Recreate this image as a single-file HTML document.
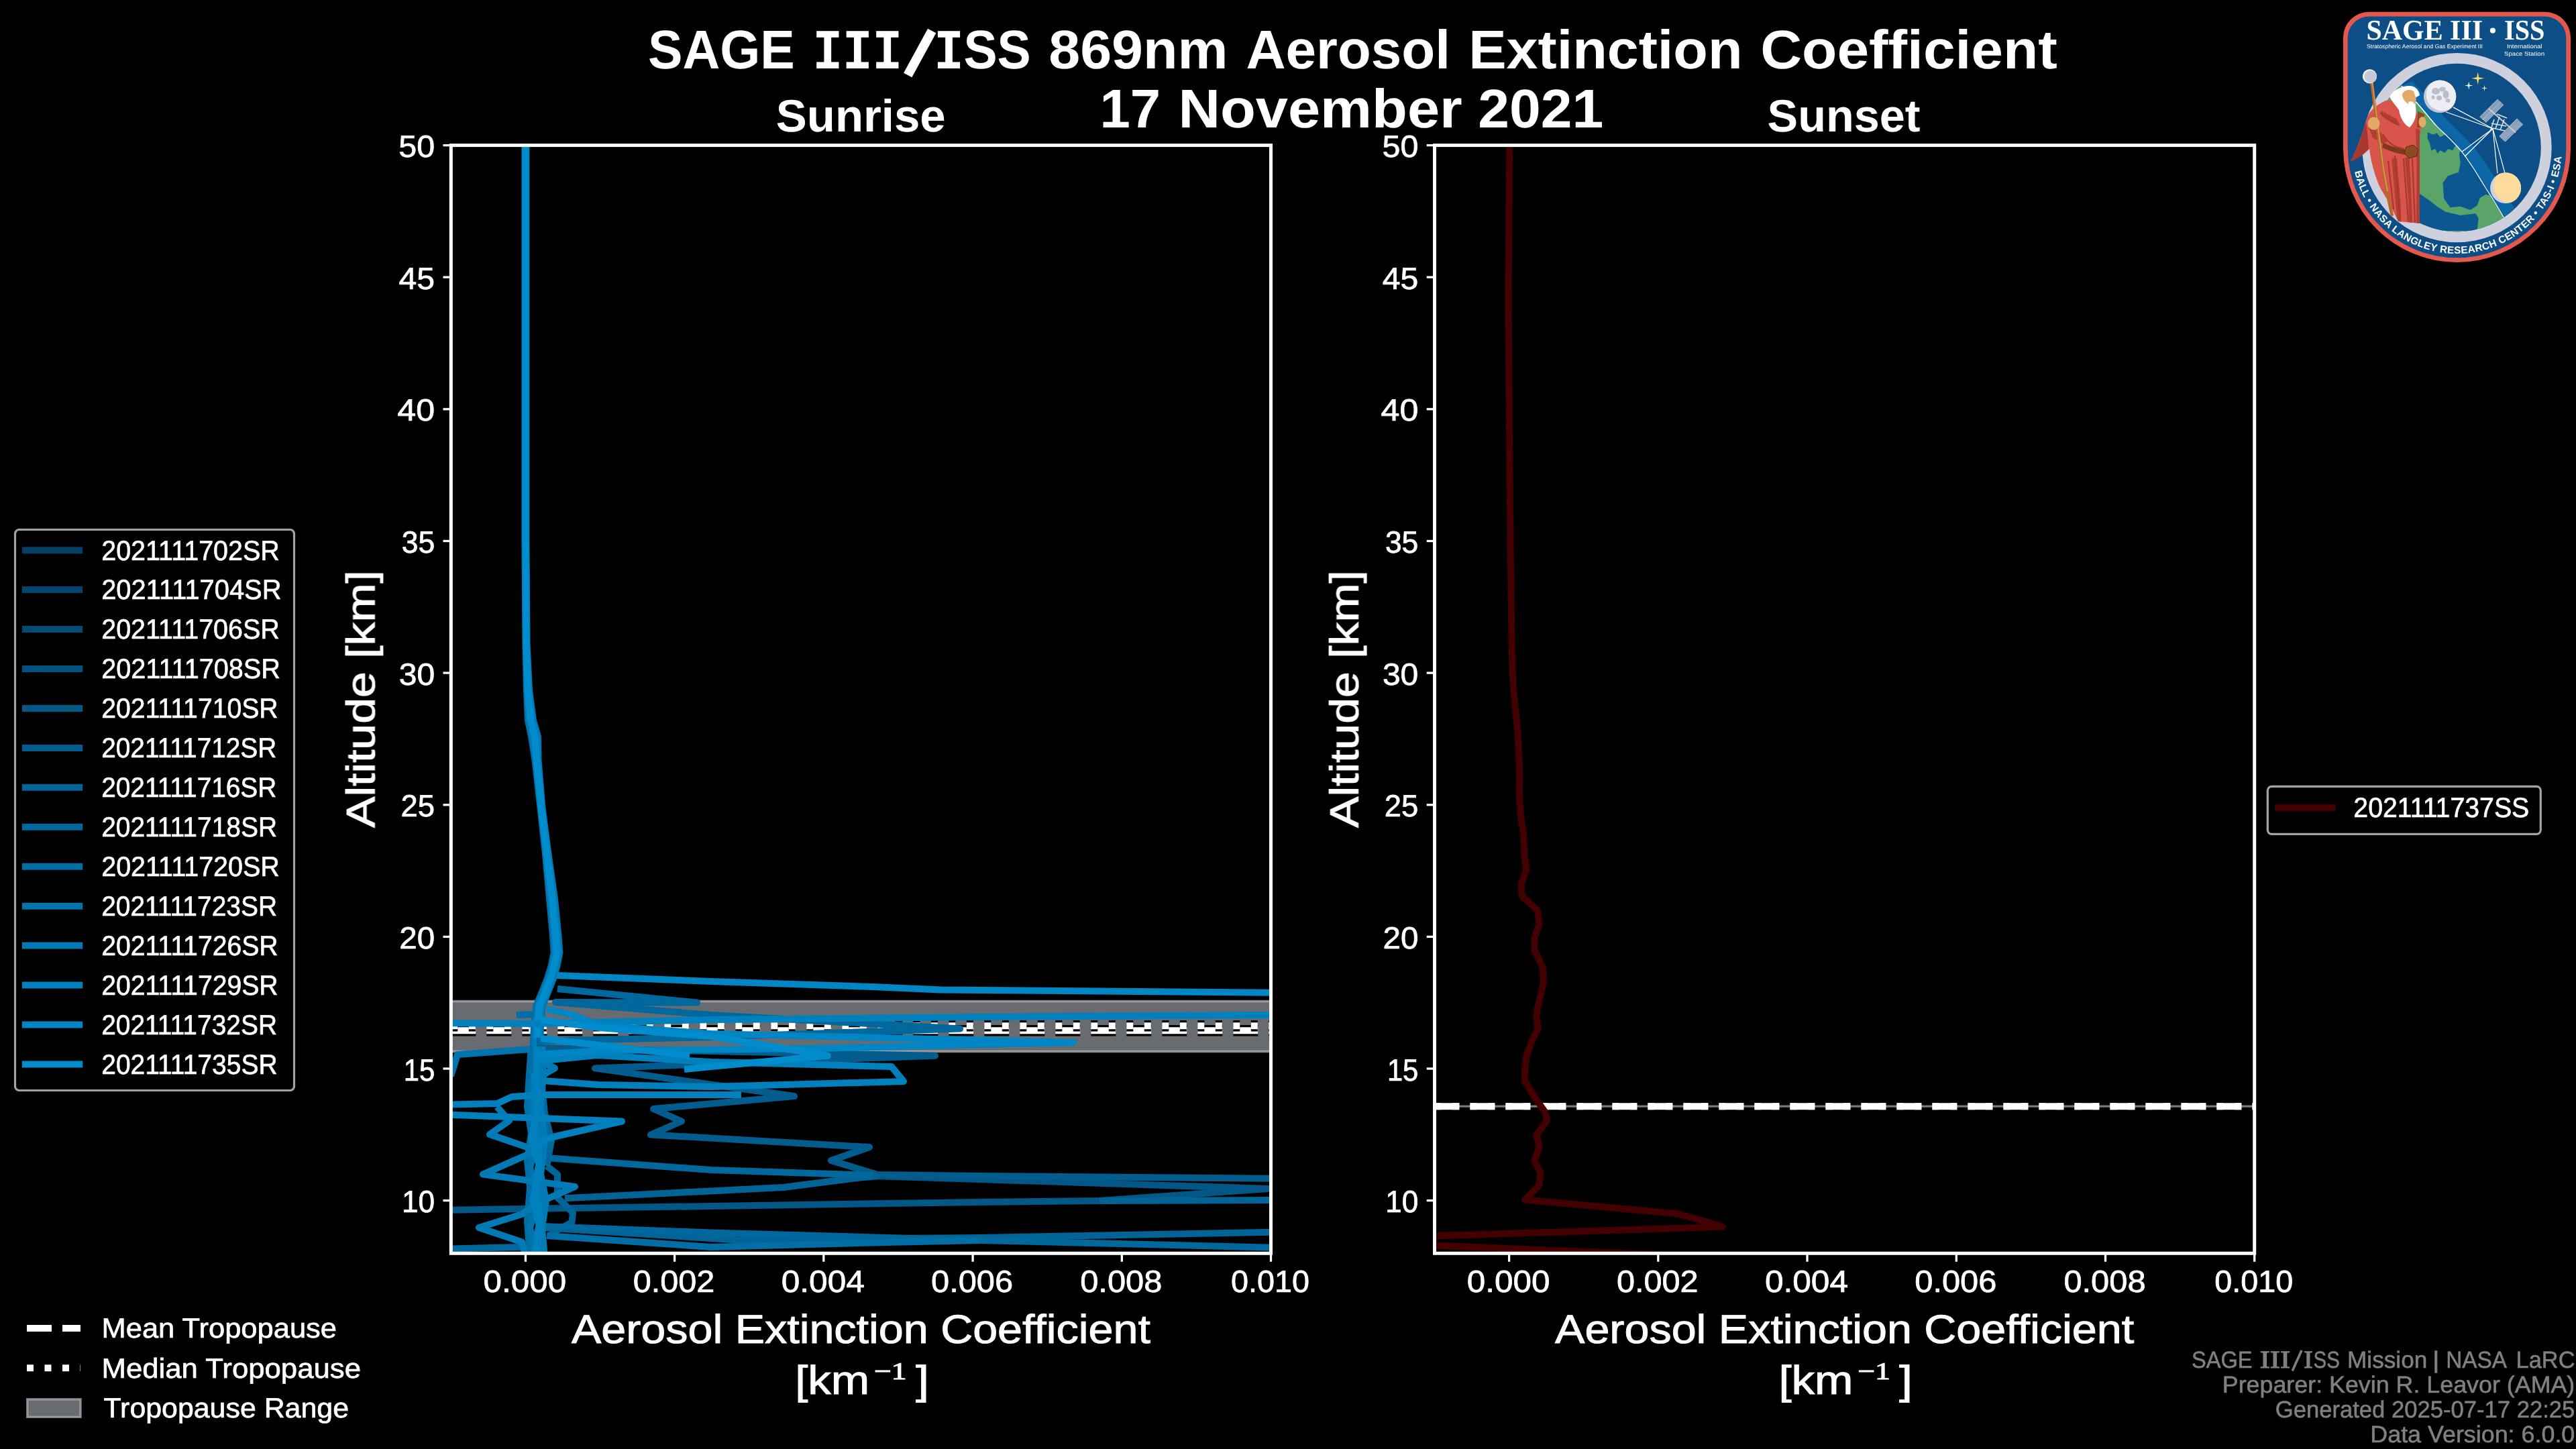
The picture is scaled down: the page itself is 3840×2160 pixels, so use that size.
<!DOCTYPE html>
<html><head><meta charset="utf-8"><title>SAGE III/ISS 869nm Aerosol Extinction Coefficient</title>
<style>html,body{margin:0;padding:0;background:#000;width:3840px;height:2160px;overflow:hidden;font-family:"Liberation Sans",sans-serif}</style>
</head><body>
<svg width="3840" height="2160" viewBox="0 0 3840 2160" style="position:absolute;left:0;top:0" text-rendering="geometricPrecision">
<defs><filter id="nf" x="-5%" y="-30%" width="110%" height="160%"><feOffset dx="0" dy="0"/></filter>
<clipPath id="c1"><rect x="672.3" y="216.6" width="1222.2" height="1651.7"/></clipPath>
<clipPath id="c2"><rect x="2138.5" y="216.6" width="1222.2" height="1651.7"/></clipPath>
</defs>
<rect width="3840" height="2160" fill="#000"/>
<g clip-path="url(#c1)" fill="none" stroke-linejoin="round" stroke-linecap="butt">
<rect x="672.3" y="1492.5" width="1222.2" height="75.0" fill="#686b70" stroke="rgba(192,195,200,0.66)" stroke-width="3.3"/>
<line x1="672.3" y1="1536.3" x2="1894.5" y2="1536.3" stroke="#000" stroke-width="16.5" stroke-dasharray="37 16"/>
<line x1="672.3" y1="1536.3" x2="1894.5" y2="1536.3" stroke="#fff" stroke-width="10" stroke-dasharray="37 16"/>
<line x1="672.3" y1="1529.3" x2="1894.5" y2="1529.3" stroke="#000" stroke-width="16.5" stroke-dasharray="10 16.5"/>
<line x1="672.3" y1="1529.3" x2="1894.5" y2="1529.3" stroke="#fff" stroke-width="10" stroke-dasharray="10 16.5"/>
<polyline points="782.4,210.0 782.4,800.0 783.5,960.0 785.0,1029.0 787.0,1074.0 792.0,1098.0 797.5,1133.0 805.2,1202.0 812.8,1271.0 819.0,1340.0 823.8,1392.0 825.6,1420.0 821.6,1440.0 815.5,1460.0 807.4,1480.0 799.2,1500.0 796.0,1528.0 794.7,1560.0 794.9,1590.0 794.0,1640.0" stroke="#016ea5" stroke-width="10"/>
<polyline points="784.4,210.0 784.4,800.0 785.5,960.0 789.0,1029.0 795.0,1074.0 802.0,1098.0 802.5,1133.0 808.2,1202.0 817.2,1271.0 827.0,1340.0 832.2,1392.0 834.4,1420.0 830.4,1440.0 824.5,1460.0 816.6,1480.0 808.8,1500.0 806.0,1528.0 805.3,1560.0 806.1,1590.0 806.0,1640.0" stroke="#0174ad" stroke-width="10"/>
<polyline points="782.9,210.0 782.9,800.0 784.0,960.0 786.0,1029.0 789.0,1074.0 794.5,1098.0 798.8,1133.0 806.0,1202.0 813.9,1271.0 821.0,1340.0 825.9,1392.0 827.8,1420.0 823.8,1440.0 817.8,1460.0 809.7,1480.0 801.6,1500.0 798.5,1528.0 797.4,1560.0 797.7,1590.0 797.0,1640.0" stroke="#017ab5" stroke-width="10"/>
<polyline points="783.9,210.0 783.9,800.0 785.0,960.0 788.0,1029.0 793.0,1074.0 799.5,1098.0 801.2,1133.0 807.5,1202.0 816.1,1271.0 825.0,1340.0 830.1,1392.0 832.2,1420.0 828.2,1440.0 822.2,1460.0 814.3,1480.0 806.4,1500.0 803.5,1528.0 802.6,1560.0 803.3,1590.0 803.0,1640.0" stroke="#0080bd" stroke-width="10"/>
<polyline points="783.4,210.0 783.4,800.0 784.5,960.0 787.0,1029.0 791.0,1074.0 797.0,1098.0 800.0,1133.0 806.7,1202.0 815.0,1271.0 823.0,1340.0 828.0,1392.0 830.0,1420.0 826.0,1440.0 820.0,1460.0 812.0,1480.0 804.0,1500.0 801.0,1528.0 800.0,1560.0 800.5,1590.0 800.0,1640.0" stroke="#017ab5" stroke-width="10"/>
<polyline points="783.4,210.0 783.4,800.0 784.5,960.0 787.0,1029.0 791.0,1074.0 797.0,1098.0 800.0,1133.0 806.7,1202.0 815.0,1271.0 823.0,1340.0 828.0,1392.0 830.0,1420.0 826.0,1440.0 820.0,1460.0 812.0,1480.0 804.0,1500.0 801.0,1528.0 801.0,1548.0" stroke="#008ccd" stroke-width="10"/>
<polyline points="650.0,1804.0 1060.0,1798.0 1460.0,1792.0 1639.0,1790.0 1890.0,1772.0 1460.0,1758.0 1300.0,1753.0" stroke="#025786" stroke-width="10"/>
<polyline points="800.0,1562.0 1394.0,1573.7 887.0,1592.4 1184.0,1634.0 974.0,1653.0 1016.0,1671.5 970.0,1691.5 1296.0,1710.0 1239.0,1730.0 1308.0,1751.0 1460.0,1753.0 1910.0,1757.0" stroke="#025d8e" stroke-width="10"/>
<polyline points="815.0,1738.0 831.0,1750.6 831.0,1785.0 854.0,1808.0 852.5,1822.0 820.0,1840.0" stroke="#026396" stroke-width="10"/>
<polyline points="841.7,1786.3 1060.0,1775.4 1168.0,1770.0 1277.0,1756.0 1310.0,1753.0" stroke="#026396" stroke-width="10"/>
<polyline points="1639.0,1790.0 1910.0,1789.0" stroke="#026396" stroke-width="10"/>
<polyline points="809.0,1830.0 1099.0,1848.4 1460.0,1845.0 1910.0,1836.5" stroke="#026396" stroke-width="10"/>
<polyline points="806.0,1600.0 812.0,1660.0 822.0,1700.0 815.0,1738.0" stroke="#01689d" stroke-width="10"/>
<polyline points="831.0,1474.0 1039.0,1494.5 828.0,1494.0 1060.0,1513.0 1431.0,1533.4 1060.0,1546.0 800.0,1552.0" stroke="#01689d" stroke-width="10"/>
<polyline points="815.0,1726.0 1060.0,1744.0 1300.0,1752.0" stroke="#01689d" stroke-width="10"/>
<polyline points="807.5,1828.0 1060.0,1837.5 1460.0,1849.0 1910.0,1860.0" stroke="#01689d" stroke-width="10"/>
<polyline points="650.0,1862.0 778.0,1859.0" stroke="#01689d" stroke-width="10"/>
<polyline points="792.0,1560.0 789.0,1600.0 786.0,1650.0 792.0,1690.0 786.0,1730.0 790.0,1770.0 786.0,1820.0 790.0,1875.0" stroke="#016ea5" stroke-width="10"/>
<polyline points="770.0,1513.0 797.0,1512.0" stroke="#016ea5" stroke-width="10"/>
<polyline points="815.0,1842.0 1060.0,1859.0 1277.0,1853.0 1460.0,1849.0" stroke="#016ea5" stroke-width="10"/>
<polyline points="797.0,1600.0 790.0,1640.0 800.0,1700.0 790.0,1740.0 803.0,1790.0 790.0,1830.0 800.0,1875.0" stroke="#0174ad" stroke-width="10"/>
<polyline points="672.0,1604.0 682.0,1572.0 790.0,1564.0" stroke="#0174ad" stroke-width="10"/>
<polyline points="808.0,1560.0 810.0,1600.0 806.0,1650.0 812.0,1700.0 806.0,1750.0 814.0,1790.0 808.0,1830.0 812.0,1875.0" stroke="#017ab5" stroke-width="10"/>
<polyline points="797.0,1600.0 796.0,1660.0 808.0,1720.0 798.0,1760.0 812.0,1800.0 800.0,1840.0 806.0,1875.0" stroke="#017ab5" stroke-width="10"/>
<polyline points="800.0,1578.0 827.0,1592.4 803.0,1606.0" stroke="#017ab5" stroke-width="10"/>
<polyline points="741.0,1650.0 759.0,1670.6 730.0,1691.0 800.0,1715.0 720.0,1750.6 857.0,1769.0 800.0,1794.0 778.0,1810.0 714.0,1830.0 778.0,1851.5 784.0,1875.0" stroke="#017ab5" stroke-width="10"/>
<polyline points="800.0,1560.0 800.0,1600.0 801.0,1650.0 797.0,1690.0 804.0,1730.0 798.0,1770.0 805.0,1810.0 799.0,1875.0" stroke="#0080bd" stroke-width="10"/>
<polyline points="797.0,1600.0 802.0,1650.0 792.0,1700.0 806.0,1745.0 794.0,1790.0 806.0,1835.0 795.0,1875.0" stroke="#0080bd" stroke-width="10"/>
<polyline points="650.0,1525.0 797.0,1526.0 1060.0,1520.0 1460.0,1516.0 1910.0,1513.0" stroke="#0080bd" stroke-width="10"/>
<polyline points="809.0,1611.0 892.0,1617.0 1060.0,1620.0 1347.0,1612.0 1329.0,1590.0 1060.0,1583.0 890.0,1573.0 800.0,1582.0" stroke="#0080bd" stroke-width="10"/>
<polyline points="650.0,1647.0 741.0,1645.0 763.0,1635.0 806.0,1632.0 1105.0,1632.0" stroke="#0080bd" stroke-width="10"/>
<polyline points="650.0,1661.0 927.0,1671.5 815.0,1697.0 795.0,1712.0" stroke="#0080bd" stroke-width="10"/>
<polyline points="830.0,1454.0 1060.0,1463.0 1300.0,1471.0 1402.0,1475.5 1910.0,1480.0" stroke="#0086c5" stroke-width="10"/>
<polyline points="815.0,1504.0 854.0,1513.0 893.0,1528.7 1060.0,1541.0 1460.0,1550.4 1600.0,1554.0 1460.0,1557.0 1215.0,1563.0 1060.0,1564.5 900.0,1566.0 800.0,1572.0" stroke="#0086c5" stroke-width="10"/>
<polyline points="806.0,1520.0 893.0,1532.0 1060.0,1545.0 1234.0,1573.7 1060.0,1590.0 1020.0,1594.0" stroke="#008ccd" stroke-width="10"/>
<polyline points="806.0,1548.0 1028.0,1573.7" stroke="#008ccd" stroke-width="10"/>
</g>
<g clip-path="url(#c2)" fill="none" stroke-linejoin="round" stroke-linecap="butt">
<line x1="2138.5" y1="1649.2" x2="3360.7" y2="1649.2" stroke="#77797e" stroke-width="3.3"/>
<line x1="2138.5" y1="1649.2" x2="3360.7" y2="1649.2" stroke="#fff" stroke-width="10" stroke-dasharray="37 16"/>
<line x1="2138.5" y1="1649.2" x2="3360.7" y2="1649.2" stroke="#fff" stroke-width="10" stroke-dasharray="10 16.5"/>
<polyline points="2250.0,210.0 2250.2,220.0 2248.5,447.0 2250.2,671.0 2251.7,820.0 2253.2,932.0 2254.4,1000.0 2256.9,1035.9 2262.3,1089.7 2265.1,1143.5 2264.8,1186.6 2266.9,1215.3 2271.2,1244.0 2272.3,1276.3 2275.5,1296.0 2267.7,1317.6 2268.7,1335.5 2292.0,1357.0 2294.6,1376.8 2287.4,1398.3 2287.4,1416.3 2300.0,1443.2 2301.0,1462.9 2296.4,1484.4 2292.6,1500.0 2290.0,1514.4 2292.6,1532.8 2283.4,1552.5 2275.6,1573.4 2273.5,1591.8 2273.0,1611.5 2290.0,1639.0 2303.0,1657.4 2306.3,1670.5 2290.5,1691.5 2294.5,1709.8 2287.4,1730.8 2296.6,1747.9 2294.0,1767.5 2273.0,1788.5 2502.5,1809.5 2567.5,1828.6 1944.0,1848.6 2420.0,1868.3 2600.0,1875.8" stroke="#440000" stroke-width="10"/>
</g>
<line x1="660.5" y1="1789.6" x2="672.3" y2="1789.6" stroke="#fff" stroke-width="3.3"/>
<text x="648.1" y="1807.1" font-family="Liberation Sans" font-size="46" font-weight="normal" fill="#fff" text-anchor="end" stroke="#fff" stroke-width="0.74" textLength="49.1" lengthAdjust="spacingAndGlyphs" filter="url(#nf)" >10</text>
<line x1="660.5" y1="1593.0" x2="672.3" y2="1593.0" stroke="#fff" stroke-width="3.3"/>
<text x="648.1" y="1610.5" font-family="Liberation Sans" font-size="46" font-weight="normal" fill="#fff" text-anchor="end" stroke="#fff" stroke-width="0.74" textLength="46.4" lengthAdjust="spacingAndGlyphs" filter="url(#nf)" >15</text>
<line x1="660.5" y1="1396.4" x2="672.3" y2="1396.4" stroke="#fff" stroke-width="3.3"/>
<text x="648.1" y="1413.9" font-family="Liberation Sans" font-size="46" font-weight="normal" fill="#fff" text-anchor="end" stroke="#fff" stroke-width="0.74" textLength="52.8" lengthAdjust="spacingAndGlyphs" filter="url(#nf)" >20</text>
<line x1="660.5" y1="1199.8" x2="672.3" y2="1199.8" stroke="#fff" stroke-width="3.3"/>
<text x="648.1" y="1217.3" font-family="Liberation Sans" font-size="46" font-weight="normal" fill="#fff" text-anchor="end" stroke="#fff" stroke-width="0.74" textLength="50.5" lengthAdjust="spacingAndGlyphs" filter="url(#nf)" >25</text>
<line x1="660.5" y1="1003.1" x2="672.3" y2="1003.1" stroke="#fff" stroke-width="3.3"/>
<text x="648.1" y="1020.6" font-family="Liberation Sans" font-size="46" font-weight="normal" fill="#fff" text-anchor="end" stroke="#fff" stroke-width="0.74" textLength="53.4" lengthAdjust="spacingAndGlyphs" filter="url(#nf)" >30</text>
<line x1="660.5" y1="806.5" x2="672.3" y2="806.5" stroke="#fff" stroke-width="3.3"/>
<text x="648.1" y="824.0" font-family="Liberation Sans" font-size="46" font-weight="normal" fill="#fff" text-anchor="end" stroke="#fff" stroke-width="0.74" textLength="49.4" lengthAdjust="spacingAndGlyphs" filter="url(#nf)" >35</text>
<line x1="660.5" y1="609.9" x2="672.3" y2="609.9" stroke="#fff" stroke-width="3.3"/>
<text x="648.1" y="627.4" font-family="Liberation Sans" font-size="46" font-weight="normal" fill="#fff" text-anchor="end" stroke="#fff" stroke-width="0.74" textLength="55.8" lengthAdjust="spacingAndGlyphs" filter="url(#nf)" >40</text>
<line x1="660.5" y1="413.2" x2="672.3" y2="413.2" stroke="#fff" stroke-width="3.3"/>
<text x="648.1" y="430.7" font-family="Liberation Sans" font-size="46" font-weight="normal" fill="#fff" text-anchor="end" stroke="#fff" stroke-width="0.74" textLength="53.5" lengthAdjust="spacingAndGlyphs" filter="url(#nf)" >45</text>
<line x1="660.5" y1="216.6" x2="672.3" y2="216.6" stroke="#fff" stroke-width="3.3"/>
<text x="648.1" y="234.1" font-family="Liberation Sans" font-size="46" font-weight="normal" fill="#fff" text-anchor="end" stroke="#fff" stroke-width="0.74" textLength="53.8" lengthAdjust="spacingAndGlyphs" filter="url(#nf)" >50</text>
<line x1="783.4" y1="1868.3" x2="783.4" y2="1880.8" stroke="#fff" stroke-width="3.3"/>
<text x="782.4" y="1926.0" font-family="Liberation Sans" font-size="46" font-weight="normal" fill="#fff" text-anchor="middle" stroke="#fff" stroke-width="0.74" textLength="123.6" lengthAdjust="spacingAndGlyphs" filter="url(#nf)" >0.000</text>
<line x1="1005.6" y1="1868.3" x2="1005.6" y2="1880.8" stroke="#fff" stroke-width="3.3"/>
<text x="1004.6" y="1926.0" font-family="Liberation Sans" font-size="46" font-weight="normal" fill="#fff" text-anchor="middle" stroke="#fff" stroke-width="0.74" textLength="121.6" lengthAdjust="spacingAndGlyphs" filter="url(#nf)" >0.002</text>
<line x1="1227.8" y1="1868.3" x2="1227.8" y2="1880.8" stroke="#fff" stroke-width="3.3"/>
<text x="1226.8" y="1926.0" font-family="Liberation Sans" font-size="46" font-weight="normal" fill="#fff" text-anchor="middle" stroke="#fff" stroke-width="0.74" textLength="124.1" lengthAdjust="spacingAndGlyphs" filter="url(#nf)" >0.004</text>
<line x1="1450.1" y1="1868.3" x2="1450.1" y2="1880.8" stroke="#fff" stroke-width="3.3"/>
<text x="1449.1" y="1926.0" font-family="Liberation Sans" font-size="46" font-weight="normal" fill="#fff" text-anchor="middle" stroke="#fff" stroke-width="0.74" textLength="122.1" lengthAdjust="spacingAndGlyphs" filter="url(#nf)" >0.006</text>
<line x1="1672.3" y1="1868.3" x2="1672.3" y2="1880.8" stroke="#fff" stroke-width="3.3"/>
<text x="1671.3" y="1926.0" font-family="Liberation Sans" font-size="46" font-weight="normal" fill="#fff" text-anchor="middle" stroke="#fff" stroke-width="0.74" textLength="122.2" lengthAdjust="spacingAndGlyphs" filter="url(#nf)" >0.008</text>
<line x1="1894.5" y1="1868.3" x2="1894.5" y2="1880.8" stroke="#fff" stroke-width="3.3"/>
<text x="1893.5" y="1926.0" font-family="Liberation Sans" font-size="46" font-weight="normal" fill="#fff" text-anchor="middle" stroke="#fff" stroke-width="0.74" textLength="116.9" lengthAdjust="spacingAndGlyphs" filter="url(#nf)" >0.010</text>
<rect x="672.3" y="216.6" width="1222.2" height="1651.7" fill="none" stroke="#fff" stroke-width="5"/>
<text x="1283.4" y="2002.0" font-family="Liberation Sans" font-size="60" font-weight="normal" fill="#fff" text-anchor="middle" stroke="#fff" stroke-width="0.96" textLength="863.0" lengthAdjust="spacingAndGlyphs" filter="url(#nf)" >Aerosol Extinction Coefficient</text>
<text x="1185.2" y="2078.0" font-family="Liberation Sans" font-size="60" font-weight="normal" fill="#fff" text-anchor="start" stroke="#fff" stroke-width="0.96" textLength="111.0" lengthAdjust="spacingAndGlyphs" filter="url(#nf)" >[km</text>
<text x="1303.0" y="2056.0" font-family="Liberation Serif" font-size="36" font-weight="normal" fill="#fff" text-anchor="start" stroke="#fff" stroke-width="1.08" textLength="48.5" lengthAdjust="spacingAndGlyphs" filter="url(#nf)" >−1</text>
<text x="1364.9" y="2078.0" font-family="Liberation Sans" font-size="60" font-weight="normal" fill="#fff" text-anchor="start" stroke="#fff" stroke-width="0.96" textLength="20.0" lengthAdjust="spacingAndGlyphs" filter="url(#nf)" >]</text>
<text transform="translate(558.4,1042.0) rotate(-90)" font-family="Liberation Sans" font-size="60" fill="#fff" text-anchor="middle" filter="url(#nf)" stroke="#fff" stroke-width="0.9" textLength="384" lengthAdjust="spacingAndGlyphs">Altitude [km]</text>
<line x1="2126.7" y1="1789.6" x2="2138.5" y2="1789.6" stroke="#fff" stroke-width="3.3"/>
<text x="2114.3" y="1807.1" font-family="Liberation Sans" font-size="46" font-weight="normal" fill="#fff" text-anchor="end" stroke="#fff" stroke-width="0.74" textLength="49.1" lengthAdjust="spacingAndGlyphs" filter="url(#nf)" >10</text>
<line x1="2126.7" y1="1593.0" x2="2138.5" y2="1593.0" stroke="#fff" stroke-width="3.3"/>
<text x="2114.3" y="1610.5" font-family="Liberation Sans" font-size="46" font-weight="normal" fill="#fff" text-anchor="end" stroke="#fff" stroke-width="0.74" textLength="46.4" lengthAdjust="spacingAndGlyphs" filter="url(#nf)" >15</text>
<line x1="2126.7" y1="1396.4" x2="2138.5" y2="1396.4" stroke="#fff" stroke-width="3.3"/>
<text x="2114.3" y="1413.9" font-family="Liberation Sans" font-size="46" font-weight="normal" fill="#fff" text-anchor="end" stroke="#fff" stroke-width="0.74" textLength="52.8" lengthAdjust="spacingAndGlyphs" filter="url(#nf)" >20</text>
<line x1="2126.7" y1="1199.8" x2="2138.5" y2="1199.8" stroke="#fff" stroke-width="3.3"/>
<text x="2114.3" y="1217.3" font-family="Liberation Sans" font-size="46" font-weight="normal" fill="#fff" text-anchor="end" stroke="#fff" stroke-width="0.74" textLength="50.5" lengthAdjust="spacingAndGlyphs" filter="url(#nf)" >25</text>
<line x1="2126.7" y1="1003.1" x2="2138.5" y2="1003.1" stroke="#fff" stroke-width="3.3"/>
<text x="2114.3" y="1020.6" font-family="Liberation Sans" font-size="46" font-weight="normal" fill="#fff" text-anchor="end" stroke="#fff" stroke-width="0.74" textLength="53.4" lengthAdjust="spacingAndGlyphs" filter="url(#nf)" >30</text>
<line x1="2126.7" y1="806.5" x2="2138.5" y2="806.5" stroke="#fff" stroke-width="3.3"/>
<text x="2114.3" y="824.0" font-family="Liberation Sans" font-size="46" font-weight="normal" fill="#fff" text-anchor="end" stroke="#fff" stroke-width="0.74" textLength="49.4" lengthAdjust="spacingAndGlyphs" filter="url(#nf)" >35</text>
<line x1="2126.7" y1="609.9" x2="2138.5" y2="609.9" stroke="#fff" stroke-width="3.3"/>
<text x="2114.3" y="627.4" font-family="Liberation Sans" font-size="46" font-weight="normal" fill="#fff" text-anchor="end" stroke="#fff" stroke-width="0.74" textLength="55.8" lengthAdjust="spacingAndGlyphs" filter="url(#nf)" >40</text>
<line x1="2126.7" y1="413.2" x2="2138.5" y2="413.2" stroke="#fff" stroke-width="3.3"/>
<text x="2114.3" y="430.7" font-family="Liberation Sans" font-size="46" font-weight="normal" fill="#fff" text-anchor="end" stroke="#fff" stroke-width="0.74" textLength="53.5" lengthAdjust="spacingAndGlyphs" filter="url(#nf)" >45</text>
<line x1="2126.7" y1="216.6" x2="2138.5" y2="216.6" stroke="#fff" stroke-width="3.3"/>
<text x="2114.3" y="234.1" font-family="Liberation Sans" font-size="46" font-weight="normal" fill="#fff" text-anchor="end" stroke="#fff" stroke-width="0.74" textLength="53.8" lengthAdjust="spacingAndGlyphs" filter="url(#nf)" >50</text>
<line x1="2249.6" y1="1868.3" x2="2249.6" y2="1880.8" stroke="#fff" stroke-width="3.3"/>
<text x="2248.6" y="1926.0" font-family="Liberation Sans" font-size="46" font-weight="normal" fill="#fff" text-anchor="middle" stroke="#fff" stroke-width="0.74" textLength="123.6" lengthAdjust="spacingAndGlyphs" filter="url(#nf)" >0.000</text>
<line x1="2471.8" y1="1868.3" x2="2471.8" y2="1880.8" stroke="#fff" stroke-width="3.3"/>
<text x="2470.8" y="1926.0" font-family="Liberation Sans" font-size="46" font-weight="normal" fill="#fff" text-anchor="middle" stroke="#fff" stroke-width="0.74" textLength="121.6" lengthAdjust="spacingAndGlyphs" filter="url(#nf)" >0.002</text>
<line x1="2694.0" y1="1868.3" x2="2694.0" y2="1880.8" stroke="#fff" stroke-width="3.3"/>
<text x="2693.0" y="1926.0" font-family="Liberation Sans" font-size="46" font-weight="normal" fill="#fff" text-anchor="middle" stroke="#fff" stroke-width="0.74" textLength="124.1" lengthAdjust="spacingAndGlyphs" filter="url(#nf)" >0.004</text>
<line x1="2916.3" y1="1868.3" x2="2916.3" y2="1880.8" stroke="#fff" stroke-width="3.3"/>
<text x="2915.3" y="1926.0" font-family="Liberation Sans" font-size="46" font-weight="normal" fill="#fff" text-anchor="middle" stroke="#fff" stroke-width="0.74" textLength="122.1" lengthAdjust="spacingAndGlyphs" filter="url(#nf)" >0.006</text>
<line x1="3138.5" y1="1868.3" x2="3138.5" y2="1880.8" stroke="#fff" stroke-width="3.3"/>
<text x="3137.5" y="1926.0" font-family="Liberation Sans" font-size="46" font-weight="normal" fill="#fff" text-anchor="middle" stroke="#fff" stroke-width="0.74" textLength="122.2" lengthAdjust="spacingAndGlyphs" filter="url(#nf)" >0.008</text>
<line x1="3360.7" y1="1868.3" x2="3360.7" y2="1880.8" stroke="#fff" stroke-width="3.3"/>
<text x="3359.7" y="1926.0" font-family="Liberation Sans" font-size="46" font-weight="normal" fill="#fff" text-anchor="middle" stroke="#fff" stroke-width="0.74" textLength="116.9" lengthAdjust="spacingAndGlyphs" filter="url(#nf)" >0.010</text>
<rect x="2138.5" y="216.6" width="1222.2" height="1651.7" fill="none" stroke="#fff" stroke-width="5"/>
<text x="2749.6" y="2002.0" font-family="Liberation Sans" font-size="60" font-weight="normal" fill="#fff" text-anchor="middle" stroke="#fff" stroke-width="0.96" textLength="863.0" lengthAdjust="spacingAndGlyphs" filter="url(#nf)" >Aerosol Extinction Coefficient</text>
<text x="2651.4" y="2078.0" font-family="Liberation Sans" font-size="60" font-weight="normal" fill="#fff" text-anchor="start" stroke="#fff" stroke-width="0.96" textLength="111.0" lengthAdjust="spacingAndGlyphs" filter="url(#nf)" >[km</text>
<text x="2769.2" y="2056.0" font-family="Liberation Serif" font-size="36" font-weight="normal" fill="#fff" text-anchor="start" stroke="#fff" stroke-width="1.08" textLength="48.5" lengthAdjust="spacingAndGlyphs" filter="url(#nf)" >−1</text>
<text x="2831.1" y="2078.0" font-family="Liberation Sans" font-size="60" font-weight="normal" fill="#fff" text-anchor="start" stroke="#fff" stroke-width="0.96" textLength="20.0" lengthAdjust="spacingAndGlyphs" filter="url(#nf)" >]</text>
<text transform="translate(2024.6,1042.0) rotate(-90)" font-family="Liberation Sans" font-size="60" fill="#fff" text-anchor="middle" filter="url(#nf)" stroke="#fff" stroke-width="0.9" textLength="384" lengthAdjust="spacingAndGlyphs">Altitude [km]</text>
<text x="966.0" y="101.7" font-family="Liberation Sans" font-size="81.3" font-weight="bold" fill="#fff" text-anchor="start" textLength="218.8" lengthAdjust="spacingAndGlyphs" filter="url(#nf)" >SAGE</text>
<text x="1211.5" y="101.7" font-family="Liberation Mono" font-size="84.5" font-weight="bold" fill="#fff" text-anchor="start" textLength="133.5" lengthAdjust="spacingAndGlyphs" filter="url(#nf)" >III</text>
<line x1="1353.2" y1="112" x2="1389.2" y2="46" stroke="#fff" stroke-width="14"/>
<text x="1392.2" y="101.7" font-family="Liberation Mono" font-size="84.5" font-weight="bold" fill="#fff" text-anchor="start" textLength="44.5" lengthAdjust="spacingAndGlyphs" filter="url(#nf)" >I</text>
<text x="1436.5" y="101.7" font-family="Liberation Sans" font-size="81.3" font-weight="bold" fill="#fff" text-anchor="start" textLength="100.2" lengthAdjust="spacingAndGlyphs" filter="url(#nf)" >SS</text>
<text x="1563.3" y="101.7" font-family="Liberation Sans" font-size="81.3" font-weight="bold" fill="#fff" text-anchor="start" textLength="267.2" lengthAdjust="spacingAndGlyphs" filter="url(#nf)" >869nm</text>
<text x="1857.4" y="101.7" font-family="Liberation Sans" font-size="81.3" font-weight="bold" fill="#fff" text-anchor="start" textLength="304.7" lengthAdjust="spacingAndGlyphs" filter="url(#nf)" >Aerosol</text>
<text x="2189.3" y="101.7" font-family="Liberation Sans" font-size="81.3" font-weight="bold" fill="#fff" text-anchor="start" textLength="408.2" lengthAdjust="spacingAndGlyphs" filter="url(#nf)" >Extinction</text>
<text x="2624.2" y="101.7" font-family="Liberation Sans" font-size="81.3" font-weight="bold" fill="#fff" text-anchor="start" textLength="442.7" lengthAdjust="spacingAndGlyphs" filter="url(#nf)" >Coefficient</text>
<text x="1639.4" y="190.0" font-family="Liberation Sans" font-size="81.3" font-weight="bold" fill="#fff" text-anchor="start" textLength="90.6" lengthAdjust="spacingAndGlyphs" filter="url(#nf)" >17</text>
<text x="1756.5" y="190.0" font-family="Liberation Sans" font-size="81.3" font-weight="bold" fill="#fff" text-anchor="start" textLength="423.2" lengthAdjust="spacingAndGlyphs" filter="url(#nf)" >November</text>
<text x="2203.2" y="190.0" font-family="Liberation Sans" font-size="81.3" font-weight="bold" fill="#fff" text-anchor="start" textLength="187.0" lengthAdjust="spacingAndGlyphs" filter="url(#nf)" >2021</text>
<text x="1156.8" y="195.8" font-family="Liberation Sans" font-size="67.8" font-weight="bold" fill="#fff" text-anchor="start" textLength="252.9" lengthAdjust="spacingAndGlyphs" filter="url(#nf)" >Sunrise</text>
<text x="2634.6" y="195.8" font-family="Liberation Sans" font-size="67.8" font-weight="bold" fill="#fff" text-anchor="start" textLength="227.8" lengthAdjust="spacingAndGlyphs" filter="url(#nf)" >Sunset</text>
<rect x="22.5" y="789.5" width="416" height="836" rx="6" fill="#000" stroke="#a3a3a3" stroke-width="3.2"/>
<line x1="33" y1="820.2" x2="123.2" y2="820.2" stroke="#033f66" stroke-width="10"/>
<text x="151.2" y="834.5" font-family="Liberation Sans" font-size="41.5" font-weight="normal" fill="#fff" text-anchor="start" stroke="#fff" stroke-width="0.66" textLength="265.7" lengthAdjust="spacingAndGlyphs" filter="url(#nf)" >2021111702SR</text>
<line x1="33" y1="879.1" x2="123.2" y2="879.1" stroke="#03456e" stroke-width="10"/>
<text x="151.2" y="893.4" font-family="Liberation Sans" font-size="41.5" font-weight="normal" fill="#fff" text-anchor="start" stroke="#fff" stroke-width="0.66" textLength="268.3" lengthAdjust="spacingAndGlyphs" filter="url(#nf)" >2021111704SR</text>
<line x1="33" y1="938.1" x2="123.2" y2="938.1" stroke="#034b76" stroke-width="10"/>
<text x="151.2" y="952.4" font-family="Liberation Sans" font-size="41.5" font-weight="normal" fill="#fff" text-anchor="start" stroke="#fff" stroke-width="0.66" textLength="265.7" lengthAdjust="spacingAndGlyphs" filter="url(#nf)" >2021111706SR</text>
<line x1="33" y1="997.0" x2="123.2" y2="997.0" stroke="#02517e" stroke-width="10"/>
<text x="151.2" y="1011.3" font-family="Liberation Sans" font-size="41.5" font-weight="normal" fill="#fff" text-anchor="start" stroke="#fff" stroke-width="0.66" textLength="266.7" lengthAdjust="spacingAndGlyphs" filter="url(#nf)" >2021111708SR</text>
<line x1="33" y1="1056.0" x2="123.2" y2="1056.0" stroke="#025786" stroke-width="10"/>
<text x="151.2" y="1070.3" font-family="Liberation Sans" font-size="41.5" font-weight="normal" fill="#fff" text-anchor="start" stroke="#fff" stroke-width="0.66" textLength="263.4" lengthAdjust="spacingAndGlyphs" filter="url(#nf)" >2021111710SR</text>
<line x1="33" y1="1114.9" x2="123.2" y2="1114.9" stroke="#025d8e" stroke-width="10"/>
<text x="151.2" y="1129.2" font-family="Liberation Sans" font-size="41.5" font-weight="normal" fill="#fff" text-anchor="start" stroke="#fff" stroke-width="0.66" textLength="261.1" lengthAdjust="spacingAndGlyphs" filter="url(#nf)" >2021111712SR</text>
<line x1="33" y1="1173.8" x2="123.2" y2="1173.8" stroke="#026396" stroke-width="10"/>
<text x="151.2" y="1188.1" font-family="Liberation Sans" font-size="41.5" font-weight="normal" fill="#fff" text-anchor="start" stroke="#fff" stroke-width="0.66" textLength="261.1" lengthAdjust="spacingAndGlyphs" filter="url(#nf)" >2021111716SR</text>
<line x1="33" y1="1232.8" x2="123.2" y2="1232.8" stroke="#01689d" stroke-width="10"/>
<text x="151.2" y="1247.1" font-family="Liberation Sans" font-size="41.5" font-weight="normal" fill="#fff" text-anchor="start" stroke="#fff" stroke-width="0.66" textLength="261.8" lengthAdjust="spacingAndGlyphs" filter="url(#nf)" >2021111718SR</text>
<line x1="33" y1="1291.7" x2="123.2" y2="1291.7" stroke="#016ea5" stroke-width="10"/>
<text x="151.2" y="1306.0" font-family="Liberation Sans" font-size="41.5" font-weight="normal" fill="#fff" text-anchor="start" stroke="#fff" stroke-width="0.66" textLength="265.7" lengthAdjust="spacingAndGlyphs" filter="url(#nf)" >2021111720SR</text>
<line x1="33" y1="1350.7" x2="123.2" y2="1350.7" stroke="#0174ad" stroke-width="10"/>
<text x="151.2" y="1365.0" font-family="Liberation Sans" font-size="41.5" font-weight="normal" fill="#fff" text-anchor="start" stroke="#fff" stroke-width="0.66" textLength="261.8" lengthAdjust="spacingAndGlyphs" filter="url(#nf)" >2021111723SR</text>
<line x1="33" y1="1409.6" x2="123.2" y2="1409.6" stroke="#017ab5" stroke-width="10"/>
<text x="151.2" y="1423.9" font-family="Liberation Sans" font-size="41.5" font-weight="normal" fill="#fff" text-anchor="start" stroke="#fff" stroke-width="0.66" textLength="263.4" lengthAdjust="spacingAndGlyphs" filter="url(#nf)" >2021111726SR</text>
<line x1="33" y1="1468.5" x2="123.2" y2="1468.5" stroke="#0080bd" stroke-width="10"/>
<text x="151.2" y="1482.8" font-family="Liberation Sans" font-size="41.5" font-weight="normal" fill="#fff" text-anchor="start" stroke="#fff" stroke-width="0.66" textLength="263.4" lengthAdjust="spacingAndGlyphs" filter="url(#nf)" >2021111729SR</text>
<line x1="33" y1="1527.5" x2="123.2" y2="1527.5" stroke="#0086c5" stroke-width="10"/>
<text x="151.2" y="1541.8" font-family="Liberation Sans" font-size="41.5" font-weight="normal" fill="#fff" text-anchor="start" stroke="#fff" stroke-width="0.66" textLength="261.8" lengthAdjust="spacingAndGlyphs" filter="url(#nf)" >2021111732SR</text>
<line x1="33" y1="1586.4" x2="123.2" y2="1586.4" stroke="#008ccd" stroke-width="10"/>
<text x="151.2" y="1600.7" font-family="Liberation Sans" font-size="41.5" font-weight="normal" fill="#fff" text-anchor="start" stroke="#fff" stroke-width="0.66" textLength="262.4" lengthAdjust="spacingAndGlyphs" filter="url(#nf)" >2021111735SR</text>
<rect x="3380.3" y="1172.3" width="407" height="71" rx="6" fill="#000" stroke="#a3a3a3" stroke-width="3.2"/>
<line x1="3391" y1="1204" x2="3481.3" y2="1204" stroke="#440000" stroke-width="10"/>
<text x="3508.3" y="1218.2" font-family="Liberation Sans" font-size="41.5" font-weight="normal" fill="#fff" text-anchor="start" stroke="#fff" stroke-width="0.66" textLength="262.0" lengthAdjust="spacingAndGlyphs" filter="url(#nf)" >2021111737SS</text>
<line x1="40" y1="1980" x2="120" y2="1980" stroke="#fff" stroke-width="10" stroke-dasharray="37 16"/>
<text x="151.5" y="1994.0" font-family="Liberation Sans" font-size="41.5" font-weight="normal" fill="#fff" text-anchor="start" stroke="#fff" stroke-width="0.66" textLength="350.5" lengthAdjust="spacingAndGlyphs" filter="url(#nf)" >Mean Tropopause</text>
<line x1="40" y1="2039.3" x2="120" y2="2039.3" stroke="#fff" stroke-width="10" stroke-dasharray="10 16.5"/>
<text x="151.5" y="2053.5" font-family="Liberation Sans" font-size="41.5" font-weight="normal" fill="#fff" text-anchor="start" stroke="#fff" stroke-width="0.66" textLength="386.5" lengthAdjust="spacingAndGlyphs" filter="url(#nf)" >Median Tropopause</text>
<rect x="40.7" y="2085.8" width="79.4" height="26.6" fill="#686b70" stroke="rgba(192,195,200,0.66)" stroke-width="3.3"/>
<text x="154.5" y="2112.8" font-family="Liberation Sans" font-size="41.5" font-weight="normal" fill="#fff" text-anchor="start" stroke="#fff" stroke-width="0.66" textLength="365.5" lengthAdjust="spacingAndGlyphs" filter="url(#nf)" >Tropopause Range</text>
<text x="3266.9" y="2038.9" font-family="Liberation Sans" font-size="35.2" font-weight="normal" fill="#808080" text-anchor="start" stroke="#808080" stroke-width="0.56" textLength="90.6" lengthAdjust="spacingAndGlyphs" filter="url(#nf)" >SAGE</text>
<text x="3368.8" y="2038.9" font-family="Liberation Serif" font-size="37" font-weight="normal" fill="#808080" text-anchor="start" stroke="#808080" stroke-width="1.11" textLength="45.2" lengthAdjust="spacingAndGlyphs" filter="url(#nf)" >III</text>
<line x1="3417.2" y1="2043.4" x2="3431" y2="2012.9" stroke="#808080" stroke-width="3.6"/>
<text x="3434.0" y="2038.9" font-family="Liberation Serif" font-size="37" font-weight="normal" fill="#808080" text-anchor="start" stroke="#808080" stroke-width="1.11" textLength="13.8" lengthAdjust="spacingAndGlyphs" filter="url(#nf)" >I</text>
<text x="3448.6" y="2038.9" font-family="Liberation Sans" font-size="35.2" font-weight="normal" fill="#808080" text-anchor="start" stroke="#808080" stroke-width="0.56" textLength="39.3" lengthAdjust="spacingAndGlyphs" filter="url(#nf)" >SS</text>
<text x="3499.0" y="2038.9" font-family="Liberation Sans" font-size="35.2" font-weight="normal" fill="#808080" text-anchor="start" stroke="#808080" stroke-width="0.56" textLength="119.3" lengthAdjust="spacingAndGlyphs" filter="url(#nf)" >Mission</text>
<text x="3626.0" y="2038.9" font-family="Liberation Sans" font-size="35.2" font-weight="normal" fill="#808080" text-anchor="start" stroke="#808080" stroke-width="0.56" textLength="10.6" lengthAdjust="spacingAndGlyphs" filter="url(#nf)" >|</text>
<text x="3646.3" y="2038.9" font-family="Liberation Sans" font-size="35.2" font-weight="normal" fill="#808080" text-anchor="start" stroke="#808080" stroke-width="0.56" textLength="90.8" lengthAdjust="spacingAndGlyphs" filter="url(#nf)" >NASA</text>
<text x="3750.6" y="2038.9" font-family="Liberation Sans" font-size="35.2" font-weight="normal" fill="#808080" text-anchor="start" stroke="#808080" stroke-width="0.56" textLength="87.9" lengthAdjust="spacingAndGlyphs" filter="url(#nf)" >LaRC</text>
<text x="3838.3" y="2076.2" font-family="Liberation Sans" font-size="35.2" font-weight="normal" fill="#808080" text-anchor="end" stroke="#808080" stroke-width="0.56" textLength="525.5" lengthAdjust="spacingAndGlyphs" filter="url(#nf)" >Preparer: Kevin R. Leavor (AMA)</text>
<text x="3838.3" y="2113.4" font-family="Liberation Sans" font-size="35.2" font-weight="normal" fill="#808080" text-anchor="end" stroke="#808080" stroke-width="0.56" textLength="446.5" lengthAdjust="spacingAndGlyphs" filter="url(#nf)" >Generated 2025-07-17 22:25</text>
<text x="3838.3" y="2150.2" font-family="Liberation Sans" font-size="35.2" font-weight="normal" fill="#808080" text-anchor="end" stroke="#808080" stroke-width="0.56" textLength="305.0" lengthAdjust="spacingAndGlyphs" filter="url(#nf)" >Data Version: 6.0.0</text>
<g id="logo"><filter id="nf2" filterUnits="userSpaceOnUse" x="3480" y="0" width="360" height="400"><feOffset dx="0" dy="0"/></filter>
<path d="M3531.0,17.8H3794.0A38,38 0 0 1 3832.0,55.8V221.5A169.5,169.5 0 0 1 3493.0,221.5V55.8A38,38 0 0 1 3531.0,17.8Z" fill="#e4584e"/>
<path d="M3531.7,24.5H3793.3A32,32 0 0 1 3825.3,56.5V221.5A162.8,162.8 0 0 1 3499.7,221.5V56.5A32,32 0 0 1 3531.7,24.5Z" fill="#0d4e86"/>
<circle cx="3662.5" cy="220.1" r="141.2" fill="#ced1dd"/>
<clipPath id="lc"><circle cx="3662.5" cy="220.1" r="125.3"/></clipPath>
<circle cx="3662.5" cy="220.1" r="125.3" fill="#0d4e86"/>
<g clip-path="url(#lc)">
<path d="M3580.0,128.0C3582.7,131.0 3590.7,140.0 3596.0,146.0C3601.3,152.0 3606.2,157.2 3612.0,164.0C3617.8,170.8 3624.7,179.8 3631.0,186.6C3637.3,193.4 3643.5,198.4 3650.0,205.0C3656.5,211.6 3663.6,218.5 3669.9,226.3C3676.2,234.1 3682.4,243.5 3688.0,252.0C3693.6,260.5 3698.5,269.2 3703.5,277.2C3708.5,285.2 3713.2,292.2 3718.0,300.0C3722.8,307.8 3727.0,315.1 3732.0,323.8C3737.0,332.5 3745.3,347.3 3748.0,352.0 L3768.5,345.0 " fill="none"/>
<polygon points="3580.0,128.0 3596.0,146.0 3612.0,164.0 3631.0,186.6 3650.0,205.0 3669.9,226.3 3688.0,252.0 3703.5,277.2 3718.0,300.0 3732.0,323.8 3748.0,352.0 3768.5,345.0 3751.9,316.8 3737.4,293.0 3722.5,270.2 3706.5,245.0 3687.9,219.3 3667.5,198.0 3648.2,179.6 3628.7,157.0 3612.4,139.0 3596.0,121.0" fill="#0b67a6"/>
<polygon points="3580.0,128.0 3596.0,146.0 3612.0,164.0 3631.0,186.6 3650.0,205.0 3669.9,226.3 3688.0,252.0 3703.5,277.2 3718.0,300.0 3732.0,323.8 3748.0,352.0 3748.0,400.0 3500.0,400.0 3500.0,128.0" fill="#5aa369"/>
<polygon points="3618.9,197.3 3626.7,200.8 3632.5,198.5 3637.7,204.3 3644.3,200.8 3652.5,202.0 3659.5,210.2 3661.2,216.1 3656.0,224.3 3649.4,221.9 3644.3,227.8 3637.7,224.3 3633.7,229.0 3630.2,221.9 3624.3,224.3 3622.0,213.7 3618.5,205.5" fill="#0b5790"/>
<polygon points="3667.7,224.3 3679.5,238.4 3691.2,254.8 3703.0,273.6 3714.7,294.7 3724.1,311.1 3711.2,291.2 3705.3,290.0 3697.1,294.7 3692.4,306.4 3682.3,313.0 3667.7,307.8 3652.5,309.2 3643.1,295.9 3641.5,272.4 3649.0,262.3 3664.9,256.7 3667.7,243.1 3665.9,229.4" fill="#0b5790"/>
<polygon points="3606.7,288.8 3620.8,298.2 3632.5,307.6 3645.5,315.8 3667.7,321.0 3690.3,318.2 3694.7,325.2 3692.4,344.0 3606.7,344.0" fill="#0b5790"/>
<path d="M3580.0,128.0C3582.7,131.0 3590.7,140.0 3596.0,146.0C3601.3,152.0 3606.2,157.2 3612.0,164.0C3617.8,170.8 3624.7,179.8 3631.0,186.6C3637.3,193.4 3643.5,198.4 3650.0,205.0C3656.5,211.6 3663.6,218.5 3669.9,226.3C3676.2,234.1 3682.4,243.5 3688.0,252.0C3693.6,260.5 3698.5,269.2 3703.5,277.2C3708.5,285.2 3713.2,292.2 3718.0,300.0C3722.8,307.8 3727.0,315.1 3732.0,323.8C3737.0,332.5 3745.3,347.3 3748.0,352.0" fill="none" stroke="#fff" stroke-width="1.2"/>
<line x1="3716" y1="191.8" x2="3656.9" y2="159.9" stroke="#fff" stroke-width="1.2"/>
<line x1="3716" y1="191.8" x2="3645.7" y2="166.8" stroke="#fff" stroke-width="1.2"/>
<line x1="3716" y1="191.8" x2="3669.9" y2="226.3" stroke="#fff" stroke-width="1.2"/>
<line x1="3716" y1="191.8" x2="3674.2" y2="233.2" stroke="#fff" stroke-width="1.2"/>
<line x1="3716" y1="191.8" x2="3722.9" y2="258.2" stroke="#fff" stroke-width="1.2"/>
<line x1="3716" y1="191.8" x2="3733.7" y2="257" stroke="#fff" stroke-width="1.2"/>
<line x1="3602" y1="152" x2="3631" y2="186.6" stroke="#fff" stroke-width="1.1"/>
<circle cx="3637.1" cy="143.8" r="24.2" fill="#c3c6d4"/>
<clipPath id="mc"><circle cx="3637.1" cy="143.8" r="24.2"/></clipPath>
<g clip-path="url(#mc)"><circle cx="3640.6" cy="141.3" r="24" fill="#eceef3"/>
<ellipse cx="3631" cy="136" rx="6" ry="5" fill="#b9bdcc"/>
<ellipse cx="3641" cy="133" rx="5" ry="3.5" fill="#b9bdcc"/>
<ellipse cx="3646" cy="141" rx="4.5" ry="6" fill="#b9bdcc"/>
<ellipse cx="3636" cy="146" rx="4" ry="3.5" fill="#b9bdcc"/>
<ellipse cx="3649" cy="150" rx="3.5" ry="3" fill="#b9bdcc"/>
<ellipse cx="3627" cy="145" rx="2.5" ry="3" fill="#b9bdcc"/>
</g>
<circle cx="3735.1" cy="280.3" r="23" fill="#d0d3de"/>
<clipPath id="sc"><circle cx="3735.1" cy="280.3" r="23"/></clipPath>
<g clip-path="url(#sc)"><circle cx="3741.5" cy="277.3" r="24.5" fill="#fddc9b"/></g>
<polygon points="3693.7,107.2 3695.2,115.2 3703.2,116.7 3695.2,118.2 3693.7,126.2 3692.2,118.2 3684.2,116.7 3692.2,115.2" fill="#fbd773"/>
<polygon points="3680.2,121.4 3681.2,126.6 3686.4,127.6 3681.2,128.6 3680.2,133.8 3679.2,128.6 3674.0,127.6 3679.2,126.6" fill="#fff"/>
<polygon points="3703.5,126.8 3704.2,130.7 3708.1,131.4 3704.2,132.1 3703.5,136.0 3702.8,132.1 3698.9,131.4 3702.8,130.7" fill="#fff"/>
<polygon points="3696.3,174.2 3723.1,147.7 3725.1,149.5 3698.3,176.1" fill="#c6c9d6"/><line x1="3697.3" y1="175.1" x2="3724.1" y2="148.6" stroke="#0d4e86" stroke-width="0.7"/><polygon points="3698.7,176.5 3725.5,149.9 3727.5,151.8 3700.8,178.4" fill="#c6c9d6"/><line x1="3699.7" y1="177.4" x2="3726.5" y2="150.8" stroke="#0d4e86" stroke-width="0.7"/><polygon points="3701.1,178.8 3727.9,152.1 3729.9,154.0 3703.2,180.7" fill="#c6c9d6"/><line x1="3702.2" y1="179.8" x2="3728.9" y2="153.1" stroke="#0d4e86" stroke-width="0.7"/><polygon points="3703.6,181.1 3730.3,154.4 3732.3,156.2 3705.6,183.0" fill="#c6c9d6"/><line x1="3704.6" y1="182.1" x2="3731.3" y2="155.3" stroke="#0d4e86" stroke-width="0.7"/>
<polygon points="3725.3,203.2 3752.1,176.5 3754.1,178.5 3727.3,205.0" fill="#c6c9d6"/><line x1="3726.3" y1="204.1" x2="3753.1" y2="177.5" stroke="#0d4e86" stroke-width="0.7"/><polygon points="3727.7,205.3 3754.4,178.9 3756.4,180.9 3729.7,207.2" fill="#c6c9d6"/><line x1="3728.7" y1="206.3" x2="3755.4" y2="179.9" stroke="#0d4e86" stroke-width="0.7"/><polygon points="3730.0,207.5 3756.8,181.2 3758.8,183.2 3732.0,209.4" fill="#c6c9d6"/><line x1="3731.0" y1="208.4" x2="3757.8" y2="182.2" stroke="#0d4e86" stroke-width="0.7"/><polygon points="3732.4,209.7 3759.1,183.6 3761.1,185.6 3734.4,211.5" fill="#c6c9d6"/><line x1="3733.4" y1="210.6" x2="3760.1" y2="184.6" stroke="#0d4e86" stroke-width="0.7"/>
<line x1="3710" y1="162" x2="3750" y2="197.5" stroke="#d4c9c0" stroke-width="2"/>
<g stroke="#dfe1ea" stroke-width="1.6" fill="none"><path d="M3718,178 L3712,196 M3726,174 L3720,192 M3733,178 L3727,194 M3714,184 L3736,188 M3716,191 L3734,195 M3722,170 L3737,176"/></g>
</g>
<path d="M3556,150 C3540,158 3531,166 3527,180 C3520,205 3512,225 3504,240 C3512,238 3522,232 3532,222 C3534,240 3540,262 3548,280 L3560,300 L3575,330 L3607,333 L3607,200 L3611,186 L3604,170 C3598,160 3590,152 3580,148 Z" fill="#d9554b"/>
<path d="M3527,182 C3520,206 3512,226 3504,240 C3512,238 3522,232 3531,222 C3530,208 3529,195 3527,182Z" fill="#a8382f"/>
<clipPath id="rc"><path d="M3556,150 C3540,158 3531,166 3527,180 C3520,205 3512,225 3504,240 C3512,238 3522,232 3532,222 C3534,240 3540,262 3548,280 L3560,300 L3575,330 L3607,333 L3607,200 L3611,186 L3604,170 C3598,160 3590,152 3580,148 Z"/></clipPath><g clip-path="url(#rc)"><polygon points="3531.4,191.1 3548.0,196.6 3559.0,210.4 3552.1,214.6 3536.9,204.9" fill="#b03e34"/><polygon points="3565.2,236.6 3572.8,236.0 3578.3,300.0 3579.7,334.6 3574.2,334.6 3570.7,300.0" fill="#b03e34"/><polygon points="3585.2,234.6 3591.4,235.3 3594.9,300.0 3596.3,334.6 3591.4,334.6 3590.1,300.0" fill="#b03e34"/><polygon points="3601.1,191.1 3607.3,193.9 3607.3,334.6 3602.1,334.6 3602.5,238.0" fill="#b03e34"/><polygon points="3549.4,164.9 3572.8,177.3 3578.3,188.3 3567.3,184.2 3550.7,173.2" fill="#b03e34"/></g>
<g stroke="#a8382f" stroke-width="2.2" fill="none"><path d="M3570,232 L3578,330 M3583,236 L3590,331 M3596,236 L3600,332 M3560,240 L3568,312 M3548,168 C3556,176 3566,178 3574,186 M3552,200 C3560,214 3570,220 3584,222"/></g>
<path d="M3553,213 C3566,219 3580,223 3604,226 L3604,233 C3580,231 3566,227 3551,220Z" fill="#7b3a1c"/>
<polygon points="3587,219 3598,216 3605,223 3602,233 3591,236 3584,228" fill="#8a4a22" stroke="#5a2a12" stroke-width="1"/>
<path d="M3562,144 C3568,134 3580,128 3592,128 C3600,128 3606,134 3607,142 L3600,146 L3601,160 C3603,170 3600,182 3592,190 C3584,186 3578,176 3576,164 C3572,158 3566,152 3562,144Z" fill="#fff"/>
<path d="M3581,140 C3584,134 3592,132 3598,136 L3602,148 L3599,158 L3591,156 C3585,152 3581,147 3581,140Z" fill="#e2a968"/>
<path d="M3590,152 C3594,150 3598,152 3600,156 L3599,162 C3594,164 3590,160 3590,152Z" fill="#fff"/>
<path d="M3535.5,123 L3543.8,188 L3552,252 L3558,285 L3566,322" fill="none" stroke="#b5682a" stroke-width="4.6"/>
<path d="M3536.5,123 L3544.8,188 L3553,252 L3559,285" fill="none" stroke="#dda25a" stroke-width="1.4"/>
<circle cx="3532.5" cy="113.8" r="10.6" fill="#eef0f4"/><circle cx="3533.6" cy="114.2" r="9.2" fill="#c5c8d6"/>
<ellipse cx="3538.5" cy="184" rx="9" ry="9.5" fill="#e2a968"/>
<path d="M3604,166 L3614,170 L3611,190 L3603,190Z" fill="#8a4a22"/><ellipse cx="3611" cy="182" rx="5.5" ry="8" fill="#e2a968"/>
<text x="3527.5" y="59" font-family="Liberation Serif" font-weight="bold" font-size="42.5" fill="#fff" filter="url(#nf2)" textLength="173.5" lengthAdjust="spacingAndGlyphs">SAGE III</text>
<circle cx="3715.9" cy="45.6" r="4.1" fill="#fff"/>
<text x="3733" y="59" font-family="Liberation Serif" font-weight="bold" font-size="42.5" fill="#fff" filter="url(#nf2)" textLength="60.5" lengthAdjust="spacingAndGlyphs">ISS</text>
<text x="3528" y="72.3" font-family="Liberation Sans" font-size="8.7" fill="#fff" filter="url(#nf2)" textLength="173" lengthAdjust="spacingAndGlyphs">Stratospheric Aerosol and Gas Experiment III</text>
<text x="3763.2" y="72.1" font-family="Liberation Sans" font-size="8.7" fill="#fff" filter="url(#nf2)" text-anchor="middle" textLength="52.6" lengthAdjust="spacingAndGlyphs">International</text>
<text x="3763" y="83" font-family="Liberation Sans" font-size="8.7" fill="#fff" filter="url(#nf2)" text-anchor="middle" textLength="60" lengthAdjust="spacingAndGlyphs">Space Station</text>
<path id="arc" d="M3510.0,255.9A156.3,156.3 0 0 0 3818.4,233.2" fill="none"/>
<text font-family="Liberation Sans" font-weight="bold" font-size="15.2" fill="#fff" filter="url(#nf2)"><textPath href="#arc" textLength="444.7" lengthAdjust="spacing">BALL • NASA LANGLEY RESEARCH CENTER • TAS-I • ESA</textPath></text>
</g>
</svg>
</body></html>
